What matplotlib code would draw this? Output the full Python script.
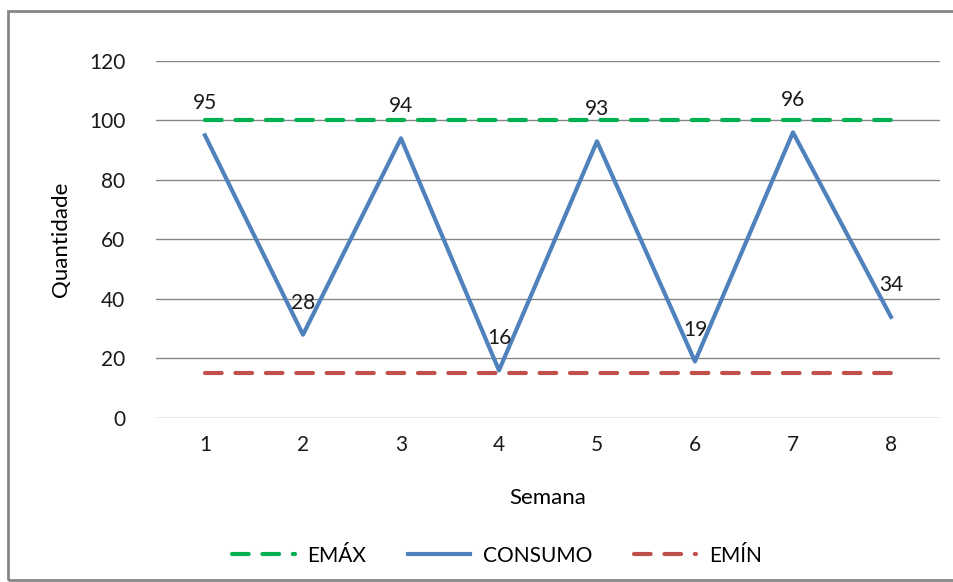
import matplotlib.pyplot as plt
from matplotlib.patches import Rectangle

semana = [1, 2, 3, 4, 5, 6, 7, 8]
consumo = [95, 28, 94, 16, 93, 19, 96, 34]
emax = [100, 100, 100, 100, 100, 100, 100, 100]
emin = [15, 15, 15, 15, 15, 15, 15, 15]

plt.rcParams['font.family'] = ['Lato', 'DejaVu Sans']

fig = plt.figure(figsize=(9.54, 5.82), dpi=100)
ax = fig.add_axes([0.1635, 0.2818, 0.8218, 0.6134])

# outer chart border
fig.patches.append(Rectangle((8 / 954, 2 / 582), 1.0, 1 - 13 / 582, transform=fig.transFigure,
                             fill=False, edgecolor='#868686', linewidth=2))

ax.plot(semana, emax, color='#00B050', linewidth=3, dashes=(4, 3.3),
        dash_capstyle='round', label='EMÁX', zorder=3)
ax.plot(semana, consumo, color='#4F81BD', linewidth=3, label='CONSUMO', zorder=4)
ax.plot(semana, emin, color='#C0504D', linewidth=3, dashes=(4, 3.3),
        dash_capstyle='round', label='EMÍN', zorder=3)

for x, y in zip(semana, consumo):
    ax.annotate(str(y), (x, y), xytext=(0, 23), textcoords='offset points',
                ha='center', va='center', fontsize=15, color='#1a1a1a', zorder=5)

ax.set_xlim(0.5, 8.5)
ax.set_ylim(0, 120)
ax.set_yticks(range(0, 121, 20))
ax.set_xticks(semana)
ax.grid(axis='y', color='#868686', linewidth=1)
ax.set_axisbelow(True)
for s in ax.spines.values():
    s.set_visible(False)
ax.tick_params(length=0, labelsize=15, colors='#1a1a1a', pad=12)
ax.tick_params(axis='y', pad=22)

ax.set_xlabel('Semana', fontsize=16, labelpad=24)
ax.set_ylabel('Quantidade', fontsize=16, labelpad=13)

ax.legend(loc='upper center', bbox_to_anchor=(0.435, -0.305), ncol=3, frameon=False,
          fontsize=15, handlelength=3.0, columnspacing=2.0, handletextpad=0.6)

fig.savefig('out.png', dpi=100)
